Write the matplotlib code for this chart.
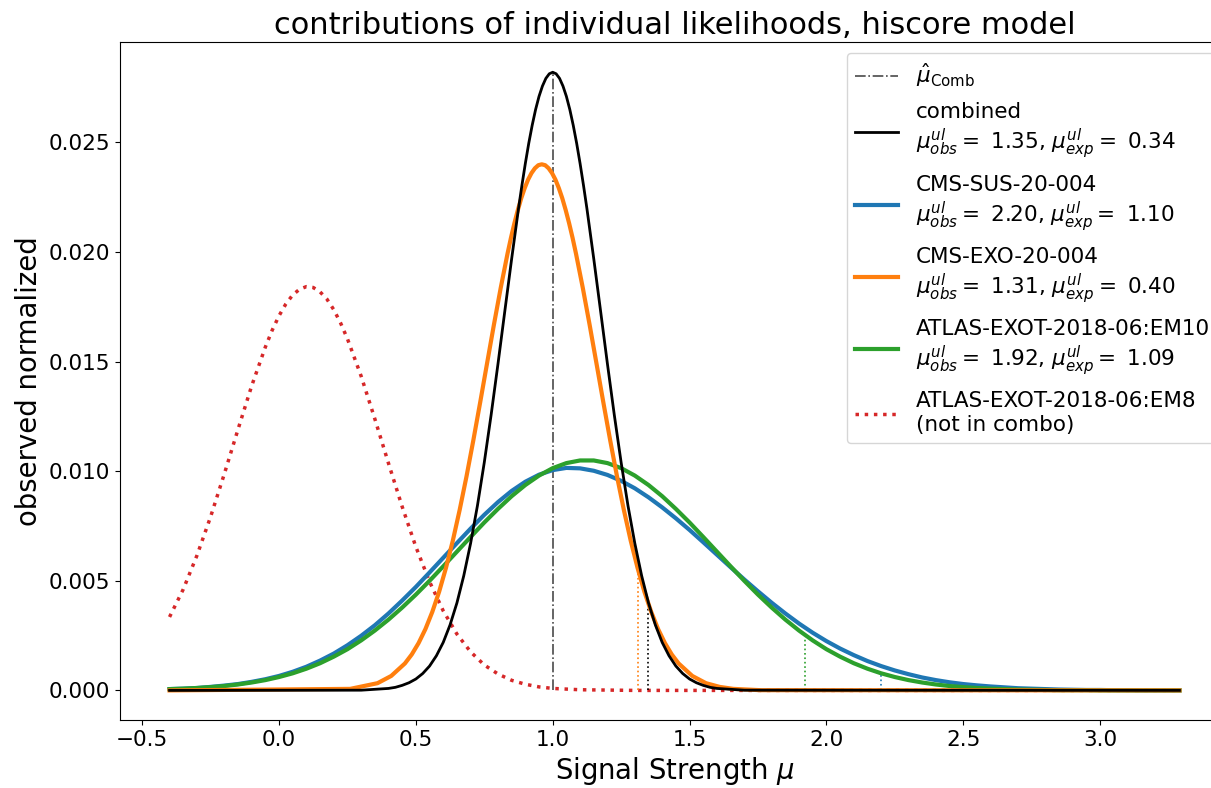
import matplotlib
matplotlib.use("Agg")
import matplotlib.pyplot as plt

# ---------------- data ----------------
x_black = [-0.40, 0.30, 0.400, 0.425, 0.450, 0.475, 0.500, 0.525, 0.550, 0.575, 0.600,
           0.625, 0.650, 0.675, 0.700, 0.725, 0.750, 0.775, 0.800, 0.825, 0.850,
           0.875, 0.8875, 0.900, 0.9125, 0.925, 0.9375, 0.950, 0.9625, 0.975, 0.9875,
           1.000, 1.0125, 1.025, 1.0375, 1.050, 1.0625, 1.075, 1.0875, 1.100, 1.1125,
           1.125, 1.150, 1.175, 1.200, 1.225, 1.250, 1.275, 1.300, 1.325, 1.350,
           1.375, 1.400, 1.425, 1.450, 1.475, 1.500, 1.525, 1.550, 1.575, 1.600,
           1.70, 3.29]
y_black = [0.0, 0.00001, 0.00009, 0.00014, 0.00023, 0.00035, 0.00052, 0.00077, 0.00111,
           0.00158, 0.00219, 0.00299, 0.00399, 0.00523, 0.00671, 0.00843, 0.01040,
           0.01257, 0.01489, 0.01730, 0.01969,
           0.02198, 0.02304, 0.02404, 0.02496, 0.02578, 0.02650, 0.02710, 0.02757, 0.02792, 0.02813,
           0.02820, 0.02813, 0.02792, 0.02757, 0.02710, 0.02650, 0.02578, 0.02496, 0.02404, 0.02304,
           0.02198, 0.01969, 0.01730, 0.01489, 0.01257, 0.01040, 0.00843, 0.00671, 0.00523, 0.00399,
           0.00299, 0.00219, 0.00158, 0.00111, 0.00077, 0.00052, 0.00035, 0.00023, 0.00014, 0.00009,
           0.00001, 0.0]

x_orange = [-0.40, 0.26, 0.36, 0.41, 0.460, 0.485, 0.510, 0.535, 0.560, 0.585, 0.610,
            0.635, 0.660, 0.685, 0.710, 0.735, 0.760, 0.785, 0.810,
            0.835, 0.8475, 0.860, 0.8725, 0.885, 0.8975, 0.910, 0.9225, 0.935, 0.9475,
            0.960, 0.9725, 0.985, 0.9975, 1.010, 1.0225, 1.035, 1.0475, 1.060, 1.0725,
            1.085, 1.110, 1.135, 1.160, 1.185, 1.210, 1.235, 1.260, 1.285, 1.310,
            1.335, 1.360, 1.385, 1.410, 1.435, 1.460, 1.51, 1.56, 1.61, 1.66, 1.76, 3.29]
y_orange = [0.0, 0.00007, 0.00033, 0.00066, 0.00123, 0.00164, 0.00216, 0.00280, 0.00358,
            0.00450, 0.00559, 0.00683, 0.00823, 0.00976, 0.01141, 0.01314, 0.01491,
            0.01667, 0.01836,
            0.01993, 0.02065, 0.02131, 0.02191, 0.02245, 0.02291, 0.02330, 0.02360, 0.02382, 0.02396,
            0.02400, 0.02396, 0.02382, 0.02360, 0.02330, 0.02291, 0.02245, 0.02191, 0.02131, 0.02065,
            0.01993, 0.01836, 0.01667, 0.01491, 0.01314, 0.01141, 0.00976, 0.00823, 0.00683, 0.00559,
            0.00450, 0.00358, 0.00280, 0.00216, 0.00164, 0.00123, 0.00066, 0.00033, 0.00016, 0.00007,
            0.00001, 0.0]

x_broad = [-0.40, -0.35, -0.30, -0.25, -0.20, -0.15, -0.10, -0.05, 0.00, 0.05,
           0.10, 0.15, 0.20, 0.25, 0.30, 0.35, 0.40, 0.45, 0.50, 0.55,
           0.60, 0.65, 0.70, 0.75, 0.80, 0.85, 0.90, 0.95, 1.00, 1.05,
           1.10, 1.15, 1.20, 1.25, 1.30, 1.35, 1.40, 1.45, 1.50, 1.55,
           1.60, 1.65, 1.70, 1.75, 1.80, 1.85, 1.90, 1.95, 2.00, 2.05,
           2.10, 2.15, 2.20, 2.25, 2.30, 2.35, 2.40, 2.45, 2.50, 2.55,
           2.60, 2.65, 2.70, 2.75, 2.80, 2.85, 2.90, 2.95, 3.00, 3.05,
           3.10, 3.15, 3.20, 3.25, 3.29]
y_blue = [0.00006, 0.00008, 0.00011, 0.00016, 0.00022, 0.00029, 0.00039, 0.00051, 0.00066, 0.00085,
          0.00108, 0.00136, 0.00168, 0.00206, 0.00249, 0.00297, 0.00351, 0.00410, 0.00472, 0.00538,
          0.00605, 0.00672, 0.00738, 0.00801, 0.00859, 0.00910, 0.00952, 0.00984, 0.01005, 0.01015,
          0.01013, 0.01002, 0.00983, 0.00956, 0.00922, 0.00881, 0.00835, 0.00785, 0.00732, 0.00676,
          0.00619, 0.00562, 0.00506, 0.00452, 0.00400, 0.00351, 0.00305, 0.00263, 0.00225, 0.00191,
          0.00161, 0.00134, 0.00111, 0.00091, 0.00074, 0.00059, 0.00047, 0.00037, 0.00029, 0.00023,
          0.00018, 0.00014, 0.00010, 0.00008, 0.00006, 0.00004, 0.00003, 0.00002, 0.00002, 0.00001,
          0.00001, 0.0, 0.0, 0.0, 0.0]
y_green = [0.00006, 0.00008, 0.00011, 0.00015, 0.00020, 0.00027, 0.00036, 0.00047, 0.00061, 0.00078,
           0.00099, 0.00124, 0.00154, 0.00188, 0.00228, 0.00273, 0.00323, 0.00378, 0.00437, 0.00500,
           0.00566, 0.00633, 0.00700, 0.00766, 0.00828, 0.00886, 0.00937, 0.00980, 0.01014, 0.01037,
           0.01049, 0.01049, 0.01037, 0.01014, 0.00980, 0.00937, 0.00886, 0.00828, 0.00766, 0.00700,
           0.00633, 0.00566, 0.00500, 0.00437, 0.00378, 0.00323, 0.00273, 0.00228, 0.00188, 0.00154,
           0.00124, 0.00099, 0.00078, 0.00061, 0.00047, 0.00036, 0.00027, 0.00020, 0.00015, 0.00011,
           0.00008, 0.00006, 0.00004, 0.00003, 0.00002, 0.00001, 0.00001, 0.00001, 0.0, 0.0,
           0.0, 0.0, 0.0, 0.0, 0.0]

x_red = [-0.40, -0.35, -0.30, -0.25, -0.20, -0.15, -0.10, -0.05, -0.025, 0.00, 0.025,
         0.05, 0.075, 0.10, 0.125, 0.15, 0.175, 0.20, 0.225, 0.25, 0.30, 0.35, 0.40,
         0.45, 0.50, 0.55, 0.60, 0.65, 0.70, 0.75, 0.80, 0.85, 0.90, 0.95, 1.00, 1.10,
         1.30, 3.29]
y_red = [0.00335, 0.00461, 0.00615, 0.00792, 0.00987, 0.01190, 0.01389, 0.01566, 0.01643,
         0.01709, 0.01763, 0.01804, 0.01830, 0.01842, 0.01838, 0.01818, 0.01785, 0.01737,
         0.01676, 0.01604, 0.01434, 0.01239, 0.01036, 0.00838, 0.00655, 0.00496, 0.00363,
         0.00257, 0.00176, 0.00116, 0.00075, 0.00046, 0.00028, 0.00016, 0.00009, 0.00003,
         0.0, 0.0]

mu_hat = 1.0
mu_hat_height = 0.0282

names = ["combined", "CMS-SUS-20-004", "CMS-EXO-20-004", "ATLAS-EXOT-2018-06:EM10"]
ul_obs = [1.35, 2.20, 1.31, 1.92]
ul_exp = [0.34, 1.10, 0.40, 1.09]
ul_height = [0.0038, 0.0007, 0.0055, 0.00245]
excluded_name = "ATLAS-EXOT-2018-06:EM8"

# ---------------- figure ----------------
fig = plt.figure(figsize=(12.11, 7.88), dpi=100)
ax = fig.add_axes([120 / 1211, 68 / 788, 1109 / 1211, 678 / 788])

ax.plot([mu_hat, mu_hat], [0, mu_hat_height], color="#4a4a4a", ls="-.", lw=1.2,
        label=r"$\hat{\mu}_{\mathrm{Comb}}$", zorder=3)


def lab(n, o, e):
    return n + "\n" + r"$\mu^{ul}_{obs}=$ " + f"{o:.2f}, " + r"$\mu^{ul}_{exp}=$ " + f"{e:.2f}"


ax.plot(x_black, y_black, color="black", lw=2.0, label=lab(names[0], ul_obs[0], ul_exp[0]), zorder=6)
ax.plot(x_broad, y_blue, color="tab:blue", lw=3.0, label=lab(names[1], ul_obs[1], ul_exp[1]), zorder=4)
ax.plot(x_orange, y_orange, color="tab:orange", lw=3.0, label=lab(names[2], ul_obs[2], ul_exp[2]), zorder=5)
ax.plot(x_broad, y_green, color="tab:green", lw=3.0, label=lab(names[3], ul_obs[3], ul_exp[3]), zorder=4)
ax.plot(x_red, y_red, color="tab:red", lw=2.5, ls=":", label=excluded_name + "\n(not in combo)", zorder=2)

for xv, hv, c in zip(ul_obs, ul_height, ["black", "tab:blue", "tab:orange", "tab:green"]):
    ax.plot([xv, xv], [0, hv], color=c, ls=":", lw=1.2, zorder=3)

ax.set_xlim(-0.581, 3.471)
ax.set_ylim(-0.00135, 0.02958)
ax.set_xticks([-0.5, 0.0, 0.5, 1.0, 1.5, 2.0, 2.5, 3.0])
ax.set_yticks([0.0, 0.005, 0.010, 0.015, 0.020, 0.025])
ax.tick_params(labelsize=15.5)
ax.set_xlabel(r"Signal Strength $\mu$", fontsize=19.8)
ax.set_ylabel("observed normalized", fontsize=19.8)
ax.set_title("contributions of individual likelihoods, hiscore model", fontsize=22)
ax.legend(loc="upper right", fontsize=15.5, handlelength=2.0, labelspacing=0.62)

fig.savefig("out.png", dpi=100)
